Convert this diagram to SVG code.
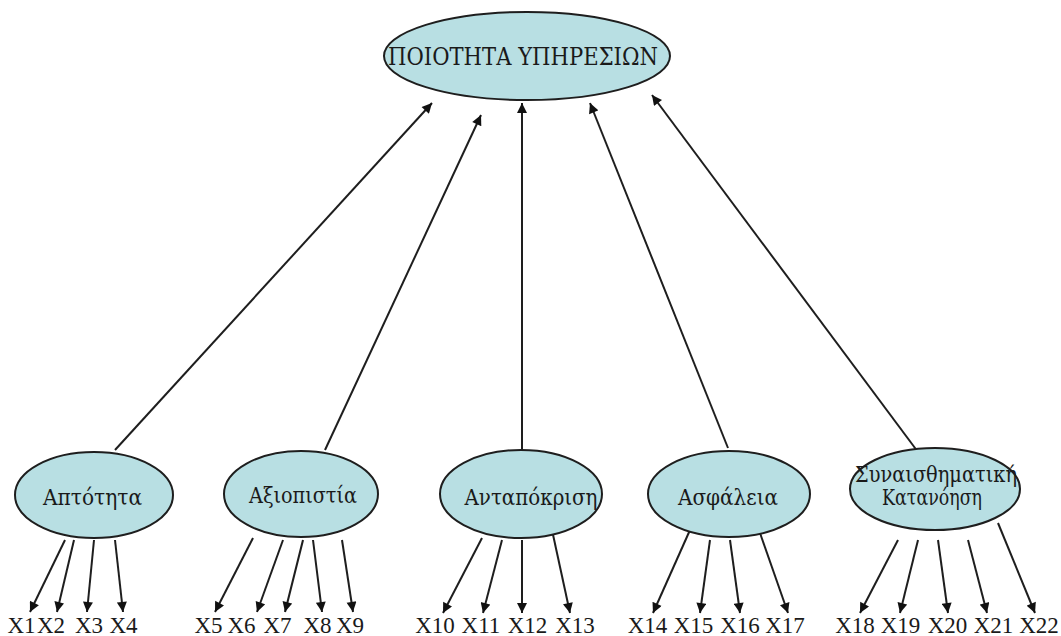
<svg xmlns="http://www.w3.org/2000/svg" width="1061" height="636" viewBox="0 0 1061 636">
<style>
.node ellipse{fill:#b8dfe3;stroke:#1e1e1e;stroke-width:2}
.lbl{font-family:"DejaVu Serif","Liberation Serif",serif;fill:#1a1a1a;text-anchor:middle}
.big{font-size:25px}
.mid{font-size:22px}
.x{font-family:"Liberation Serif","DejaVu Serif",serif;font-size:23px;fill:#1a1a1a;text-anchor:middle}
.conn line{stroke:#1e1e1e;stroke-width:2;marker-end:url(#ah)}
</style>
<defs>
<marker id="ah" viewBox="0 0 10 10" refX="10" refY="5" markerWidth="12" markerHeight="10" markerUnits="userSpaceOnUse" orient="auto">
<path d="M0,0 L10,5 L0,10 z" fill="#111"/>
</marker>
</defs>
<rect width="1061" height="636" fill="#ffffff"/>
<g id="connectors" class="conn">
<line x1="115" y1="450" x2="432" y2="103"/>
<line x1="325" y1="450" x2="481" y2="115"/>
<line x1="522" y1="450" x2="522" y2="103"/>
<line x1="728" y1="448" x2="590" y2="103"/>
<line x1="918" y1="452" x2="652" y2="95"/>
<line x1="65" y1="540" x2="30" y2="612"/>
<line x1="74" y1="540" x2="57" y2="612"/>
<line x1="94" y1="540" x2="87" y2="612"/>
<line x1="115" y1="540" x2="123" y2="612"/>
<line x1="253" y1="538" x2="215" y2="612"/>
<line x1="283" y1="540" x2="257" y2="612"/>
<line x1="303" y1="540" x2="285" y2="612"/>
<line x1="313" y1="540" x2="322" y2="612"/>
<line x1="342" y1="540" x2="353" y2="612"/>
<line x1="482" y1="538" x2="443" y2="613"/>
<line x1="502" y1="540" x2="483" y2="613"/>
<line x1="522" y1="540" x2="522" y2="613"/>
<line x1="552" y1="530" x2="570" y2="613"/>
<line x1="690" y1="530" x2="653" y2="613"/>
<line x1="710" y1="540" x2="700" y2="613"/>
<line x1="730" y1="540" x2="740" y2="613"/>
<line x1="760" y1="533" x2="788" y2="613"/>
<line x1="898" y1="540" x2="860" y2="613"/>
<line x1="918" y1="540" x2="900" y2="613"/>
<line x1="938" y1="540" x2="948" y2="613"/>
<line x1="968" y1="540" x2="987" y2="613"/>
<line x1="998" y1="523" x2="1035" y2="613"/>
</g>
<g id="node-top" class="node">
<ellipse cx="527" cy="56" rx="143" ry="44"/>
<text class="lbl big" x="523" y="65" textLength="270" lengthAdjust="spacingAndGlyphs">ΠΟΙΟΤΗΤΑ ΥΠΗΡΕΣΙΩΝ</text>
</g>
<g id="node-aptotita" class="node">
<ellipse cx="94" cy="495" rx="79" ry="43"/>
<text class="lbl mid" x="92.5" y="505" textLength="99" lengthAdjust="spacingAndGlyphs">Απτότητα</text>
</g>
<g id="node-axiopistia" class="node">
<ellipse cx="301" cy="494" rx="77" ry="43"/>
<text class="lbl mid" x="303" y="503" textLength="108" lengthAdjust="spacingAndGlyphs">Αξιοπιστία</text>
</g>
<g id="node-antapokrisi" class="node">
<ellipse cx="521" cy="494" rx="81" ry="44"/>
<text class="lbl mid" x="531" y="505" textLength="133" lengthAdjust="spacingAndGlyphs">Ανταπόκριση</text>
</g>
<g id="node-asfaleia" class="node">
<ellipse cx="729" cy="494" rx="81" ry="43"/>
<text class="lbl mid" x="728" y="505" textLength="100" lengthAdjust="spacingAndGlyphs">Ασφάλεια</text>
</g>
<g id="node-synaisthimatiki" class="node">
<ellipse cx="935" cy="489" rx="85" ry="41"/>
<text class="lbl mid" x="936" y="482" textLength="162" lengthAdjust="spacingAndGlyphs">Συναισθηματική</text>
<text class="lbl mid" x="932" y="505" textLength="100" lengthAdjust="spacingAndGlyphs">Κατανόηση</text>
</g>
<g id="items">
<text class="x" x="21.5" y="633">X1</text>
<text class="x" x="51" y="633">X2</text>
<text class="x" x="89" y="633">X3</text>
<text class="x" x="123.5" y="633">X4</text>
<text class="x" x="208.5" y="633">X5</text>
<text class="x" x="241.5" y="633">X6</text>
<text class="x" x="277.5" y="633">X7</text>
<text class="x" x="317.5" y="633">X8</text>
<text class="x" x="350" y="633">X9</text>
<text class="x" x="435" y="633">X10</text>
<text class="x" x="481" y="633">X11</text>
<text class="x" x="527.5" y="633">X12</text>
<text class="x" x="575" y="633">X13</text>
<text class="x" x="647.5" y="633">X14</text>
<text class="x" x="693.5" y="633">X15</text>
<text class="x" x="740" y="633">X16</text>
<text class="x" x="785" y="633">X17</text>
<text class="x" x="855" y="633">X18</text>
<text class="x" x="900.5" y="633">X19</text>
<text class="x" x="947.5" y="633">X20</text>
<text class="x" x="993.5" y="633">X21</text>
<text class="x" x="1039" y="633">X22</text>
</g>
</svg>
